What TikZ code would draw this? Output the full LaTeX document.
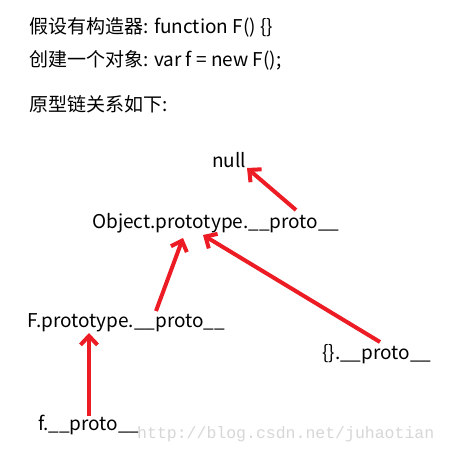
\documentclass[tikz,border=0pt]{standalone}
\usepackage{fontspec}
\newfontfamily\cjk{Noto Sans CJK SC}
\setmonofont{Liberation Mono}
\usetikzlibrary{arrows.meta}
\definecolor{arrowred}{RGB}{237,28,36}
\definecolor{wmgray}{RGB}{215,215,215}
\begin{document}
\begin{tikzpicture}[x=1pt,y=1pt,
  txt/.style={inner sep=0pt,anchor=base west,font=\cjk\fontsize{19}{22}\selectfont},
  wm/.style={inner sep=0pt,anchor=base west,font=\ttfamily\fontsize{16.5}{19}\selectfont,text=wmgray},
  redarrow/.style={draw=arrowred,line width=4pt,-{Straight Barb[length=9pt,width=17pt,line width=4pt]}}]
\useasboundingbox[fill=white] (0,0) rectangle (448,-453);
\node[txt] (l1) at (29,-33) {假设有构造器: function F() \{\}};
\node[txt] (l2) at (29,-66.7) {创建一个对象: var f = new F();};
\node[txt] (l3) at (29,-111.7) {原型链关系如下:};
\node[txt] (null) at (212,-167) {null};
\node[txt] (obj) at (92,-228) {Object.prototype.\_\_proto\_\_};
\node[txt] (F) at (27,-327) {F.prototype.\_\_proto\_\_};
\node[txt] (brace) at (322,-359) {\{\}.\_\_proto\_\_};
\node[txt] (f) at (38,-430) {f.\_\_proto\_\_};
\node[wm] (wm) at (137,-438) {http://blog.csdn.net/juhaotian};
\draw[redarrow] ([shift={(204,18)}]obj.base west) -- ([shift={(35,-1)}]null.base west);
\draw[redarrow] ([shift={(129,16)}]F.base west) -- ([shift={(91,-10)}]obj.base west);
\draw[redarrow] ([shift={(58,17)}]brace.base west) -- ([shift={(111,-7)}]obj.base west);
\draw[redarrow] ([shift={(51,14)}]f.base west) -- ([shift={(62,-6)}]F.base west);
\end{tikzpicture}
\end{document}
